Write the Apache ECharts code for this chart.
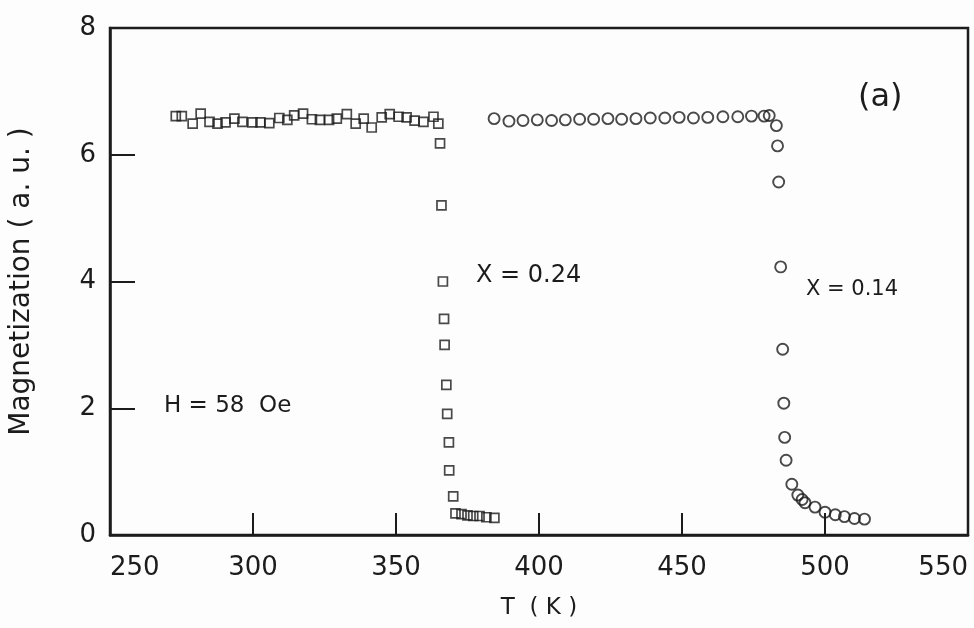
<!DOCTYPE html>
<html>
<head>
<meta charset="utf-8">
<script src="https://cdn.jsdelivr.net/npm/echarts@6/dist/echarts.min.js"></script>
<style>
  html, body { margin: 0; padding: 0; background: #fdfdfd; }
  #chart { width: 974px; height: 628px; }
</style>
</head>
<body>
<div id="chart"></div>
<script>
// Magnetization vs temperature, two compositions
// x = 0.24 sample (squares): temperature (K) and magnetization (a.u.)
const tempX024 = [
  273.0, 275.1, 278.9, 281.7, 284.8, 287.6, 290.4, 293.5, 296.3, 299.8,
  302.6, 305.7, 309.2, 312.0, 314.4, 317.5, 320.6, 323.4, 326.6, 329.3,
  332.8, 335.9, 338.7, 341.5, 345.0, 347.8, 350.9, 353.7, 356.5, 359.6,
  363.1, 364.8,
  365.4, 365.9, 366.4, 366.8, 367.0, 367.6, 367.9, 368.5, 368.6, 370.0,
  370.8, 372.9, 375.0, 377.0, 379.2, 381.6, 384.4
];
const magX024 = [
  6.61, 6.61, 6.49, 6.65, 6.52, 6.49, 6.51, 6.57, 6.52, 6.51,
  6.51, 6.50, 6.58, 6.55, 6.62, 6.65, 6.56, 6.55, 6.55, 6.57,
  6.64, 6.49, 6.57, 6.43, 6.59, 6.64, 6.60, 6.59, 6.54, 6.52,
  6.60, 6.49,
  6.18, 5.20, 4.00, 3.41, 3.00, 2.37, 1.91, 1.46, 1.02, 0.61,
  0.34, 0.33, 0.31, 0.30, 0.30, 0.28, 0.27
];

// x = 0.14 sample (circles)
const tempX014 = [
  384.3, 389.5, 394.4, 399.4, 404.4, 409.2, 414.2, 419.1, 424.1, 428.9,
  433.9, 438.9, 444.0, 449.0, 454.0, 459.0, 464.3, 469.5, 474.3, 478.7,
  480.5,
  483.0, 483.4, 483.8, 484.5, 485.2, 485.6, 485.9, 486.4, 488.4, 490.5,
  492.0, 493.0, 496.5, 500.0, 503.6, 506.8, 510.3, 513.8
];
const magX014 = [
  6.57, 6.53, 6.54, 6.55, 6.54, 6.55, 6.56, 6.56, 6.57, 6.56,
  6.57, 6.58, 6.58, 6.59, 6.58, 6.59, 6.60, 6.60, 6.61, 6.61,
  6.62,
  6.46, 6.14, 5.57, 4.23, 2.93, 2.08, 1.54, 1.18, 0.80, 0.63,
  0.56, 0.51, 0.44, 0.36, 0.32, 0.29, 0.26, 0.25
];

// axis ranges and tick positions
const xMin = 250, xMax = 550, xStep = 50;
const yMin = 0, yMax = 8, yStep = 2;
const xTickMarks = [300, 350, 400, 450, 500];
const yTickMarks = [2, 4, 6];

const ink = '#1c1c1c';
const font = 'DejaVu Sans';

const pairs = (xs, ys) => xs.map((x, i) => [x, ys[i]]);

const chart = echarts.init(document.getElementById('chart'), null, { renderer: 'canvas' });

chart.setOption({
  backgroundColor: '#fdfdfd',
  animation: false,
  grid: {
    left: 108, right: 6, top: 28, bottom: 93,
    show: true, borderColor: ink, borderWidth: 2.5, backgroundColor: 'transparent'
  },
  xAxis: {
    type: 'value', min: xMin, max: xMax, interval: xStep,
    name: 'T  ( K )', nameLocation: 'middle', nameGap: 62,
    nameTextStyle: { fontFamily: font, fontSize: 23, color: ink },
    axisLine: { lineStyle: { color: ink, width: 2.5 } },
    axisTick: { inside: true, length: 22, customValues: xTickMarks, lineStyle: { color: ink, width: 2 } },
    axisLabel: {
      fontFamily: font, fontSize: 26, color: ink, margin: 20,
      alignMinLabel: 'left', alignMaxLabel: 'right'
    },
    splitLine: { show: false }
  },
  yAxis: {
    type: 'value', min: yMin, max: yMax, interval: yStep,
    name: 'Magnetization ( a. u. )', nameLocation: 'middle', nameRotate: 90, nameGap: 74,
    nameTextStyle: { fontFamily: font, fontSize: 28, color: ink },
    axisLine: { lineStyle: { color: ink, width: 2.5 } },
    axisTick: { inside: true, length: 25, customValues: yTickMarks, lineStyle: { color: ink, width: 2 } },
    axisLabel: { fontFamily: font, fontSize: 26, color: ink, margin: 14 },
    splitLine: { show: false }
  },
  series: [
    {
      name: 'X = 0.24',
      type: 'scatter',
      data: pairs(tempX024, magX024),
      symbol: 'rect',
      symbolSize: 9,
      itemStyle: { color: 'rgba(0,0,0,0)', borderColor: ink, borderWidth: 1.7 }
    },
    {
      name: 'X = 0.14',
      type: 'scatter',
      data: pairs(tempX014, magX014),
      symbol: 'circle',
      symbolSize: 11,
      itemStyle: { color: 'rgba(0,0,0,0)', borderColor: ink, borderWidth: 1.9 }
    }
  ],
  graphic: [
    { type: 'text', left: 858, top: 82, style: { text: '(a)', fontFamily: font, fontSize: 32, fill: ink } },
    { type: 'text', left: 476, top: 264, style: { text: 'X = 0.24', fontFamily: font, fontSize: 24, fill: ink } },
    { type: 'text', left: 806, top: 279, style: { text: 'X = 0.14', fontFamily: font, fontSize: 21, fill: ink } },
    { type: 'text', left: 164, top: 395, style: { text: 'H = 58  Oe', fontFamily: font, fontSize: 23, fill: ink } }
  ]
});
</script>
</body>
</html>
